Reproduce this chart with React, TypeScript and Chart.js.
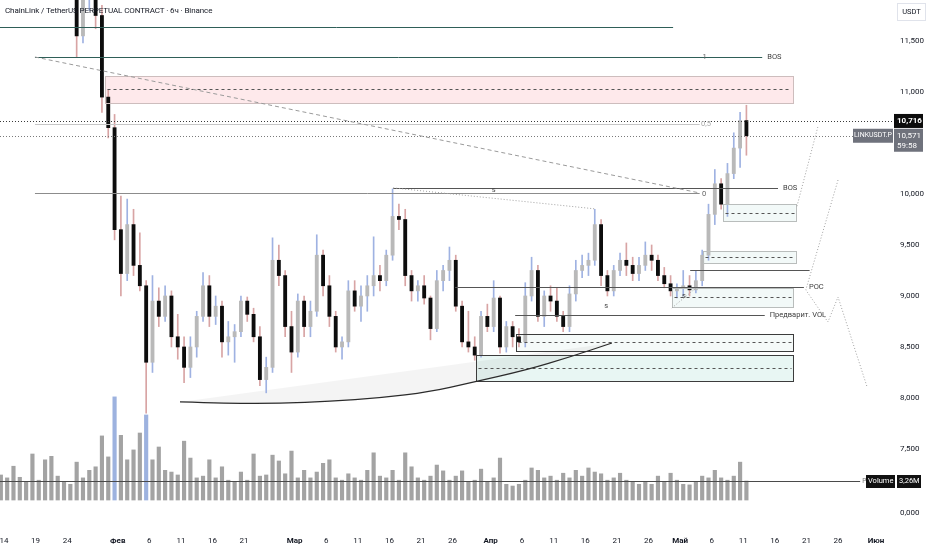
import React, { useEffect, useRef } from 'react';
import { Chart, registerables } from 'chart.js';

Chart.register(...registerables);

// ---------------- data (daily candles, day 0 = 14 Jan) ----------------
const firstDay = -1;
const opens = [
  12.60, 12.80, 13.05, 13.40, 13.25, 13.00, 13.70, 13.45, 13.10, 12.70,
  12.85, 12.45, 12.20, 11.55, 11.95, 12.05, 11.75, 10.95, 10.65, 9.65,
  9.22, 9.70, 9.30, 9.10, 8.35, 8.95, 8.80, 9.00, 8.60, 8.50,
  8.30, 8.50, 8.80, 9.10, 8.80, 8.90, 8.55, 8.60, 8.65, 8.95,
  8.82, 8.60, 8.18, 8.30, 9.35, 9.20, 8.70, 8.45, 8.95, 8.70,
  8.85, 9.40, 9.10, 8.80, 8.50, 8.55, 9.05, 8.90, 9.00, 9.10,
  9.20, 9.15, 9.40, 9.78, 9.75, 9.20, 9.05, 9.10, 8.98, 8.68,
  9.15, 9.25, 9.35, 8.90, 8.55, 8.50, 8.42, 8.80, 8.70, 8.98,
  8.50, 8.70, 8.60, 8.55, 9.00, 9.25, 8.80, 9.00, 8.95, 8.80,
  8.70, 9.02, 9.25, 9.30, 9.35, 9.70, 9.20, 9.05, 9.25, 9.35,
  9.30, 9.22, 9.30, 9.40, 9.35, 9.20, 9.12, 9.05, 9.08, 9.10,
  9.06, 9.15, 9.40, 9.80, 10.10, 9.90, 10.20, 10.45, 10.72,
];
const highs = [
  13.00, 13.20, 13.60, 13.80, 13.50, 13.90, 14.00, 13.70, 13.30, 13.00,
  13.10, 12.70, 12.40, 12.10, 12.30, 12.20, 11.85, 11.02, 10.78, 9.98,
  9.95, 9.85, 9.62, 9.15, 9.20, 9.08, 9.10, 9.05, 8.82, 8.60,
  8.60, 8.85, 9.23, 9.20, 9.00, 8.95, 8.75, 8.72, 9.00, 8.99,
  8.88, 8.70, 8.40, 9.57, 9.50, 9.25, 8.85, 9.02, 9.00, 8.95,
  9.60, 9.45, 9.20, 8.85, 8.60, 9.15, 9.15, 9.10, 9.20, 9.58,
  9.30, 9.45, 10.05, 9.90, 9.85, 9.25, 9.15, 9.20, 9.00, 9.25,
  9.30, 9.48, 9.40, 8.95, 8.85, 8.60, 8.85, 8.92, 9.15, 9.00,
  8.75, 8.75, 8.68, 9.13, 9.38, 9.30, 9.05, 9.10, 9.08, 8.85,
  9.10, 9.35, 9.40, 9.42, 9.85, 9.75, 9.25, 9.30, 9.42, 9.52,
  9.38, 9.38, 9.53, 9.50, 9.40, 9.28, 9.20, 9.12, 9.25, 9.20,
  9.25, 9.45, 9.90, 10.24, 10.15, 10.30, 10.60, 10.80, 10.87,
];
const lows = [
  12.30, 12.50, 12.90, 13.10, 12.90, 12.85, 13.30, 12.90, 12.50, 12.40,
  12.30, 12.00, 11.34, 11.48, 11.80, 11.62, 10.80, 10.55, 9.55, 9.00,
  9.15, 9.20, 9.05, 7.85, 8.25, 8.70, 8.75, 8.50, 8.38, 8.15,
  8.20, 8.40, 8.75, 8.70, 8.72, 8.40, 8.42, 8.35, 8.60, 8.75,
  8.55, 8.12, 8.05, 8.25, 9.10, 8.60, 8.25, 8.40, 8.60, 8.60,
  8.80, 9.00, 8.70, 8.45, 8.38, 8.50, 8.85, 8.75, 8.85, 9.00,
  9.05, 9.10, 9.35, 9.65, 9.10, 8.95, 8.95, 8.92, 8.57, 8.65,
  9.05, 9.15, 8.85, 8.50, 8.45, 8.37, 8.40, 8.65, 8.65, 8.44,
  8.45, 8.50, 8.50, 8.50, 8.95, 8.75, 8.70, 8.85, 8.75, 8.65,
  8.65, 8.95, 9.18, 9.20, 9.30, 9.10, 9.00, 9.00, 9.20, 9.20,
  9.15, 9.15, 9.25, 9.25, 9.15, 9.08, 9.00, 8.98, 9.00, 9.00,
  9.03, 9.10, 9.35, 9.70, 9.85, 9.78, 10.15, 10.26, 10.38,
];
const closes = [
  12.80, 13.05, 13.40, 13.25, 13.00, 13.70, 13.45, 13.10, 12.70, 12.85,
  12.45, 12.20, 11.55, 11.95, 12.05, 11.75, 10.95, 10.65, 9.65, 9.22,
  9.70, 9.30, 9.10, 8.35, 8.95, 8.80, 9.00, 8.60, 8.50, 8.30,
  8.50, 8.80, 9.10, 8.80, 8.90, 8.55, 8.60, 8.65, 8.95, 8.82,
  8.60, 8.18, 8.30, 9.35, 9.20, 8.70, 8.45, 8.95, 8.70, 8.85,
  9.40, 9.10, 8.80, 8.50, 8.55, 9.05, 8.90, 9.00, 9.10, 9.20,
  9.15, 9.40, 9.78, 9.75, 9.20, 9.05, 9.10, 8.98, 8.68, 9.15,
  9.25, 9.35, 8.90, 8.55, 8.50, 8.42, 8.80, 8.70, 8.98, 8.50,
  8.70, 8.60, 8.55, 9.00, 9.25, 8.80, 9.00, 8.95, 8.80, 8.70,
  9.02, 9.25, 9.30, 9.35, 9.70, 9.20, 9.05, 9.25, 9.35, 9.30,
  9.22, 9.30, 9.40, 9.35, 9.20, 9.12, 9.05, 9.08, 9.10, 9.06,
  9.15, 9.40, 9.80, 10.10, 9.90, 10.20, 10.45, 10.72, 10.571,
];
const volumes = [
  4.3, 3.8, 5.8, 3.9, 3.1, 7.9, 3.4, 6.9, 7.5, 4.1,
  3.1, 2.7, 6.5, 3.8, 5.1, 5.7, 11.0, 7.4, 17.7, 11.1,
  6.9, 8.6, 11.5, 14.6, 6.9, 9.1, 5.1, 4.8, 4.3, 10.1,
  7.2, 3.8, 4.1, 6.9, 3.8, 5.7, 3.4, 3.1, 4.8, 3.4,
  7.9, 4.1, 4.3, 7.7, 6.7, 4.5, 8.4, 3.8, 5.1, 3.8,
  4.8, 6.3, 6.9, 3.8, 3.4, 4.5, 3.8, 3.4, 5.1, 8.1,
  4.1, 3.8, 5.1, 3.4, 8.1, 5.7, 3.8, 3.4, 4.1, 6.0,
  5.0, 3.4, 4.1, 5.0, 3.1, 3.4, 5.3, 3.1, 3.8, 7.2,
  2.7, 2.4, 2.7, 3.4, 5.5, 5.1, 3.8, 4.1, 3.4, 4.6,
  3.8, 5.1, 4.1, 5.5, 4.8, 4.5, 3.4, 3.8, 4.6, 3.4,
  3.1, 2.7, 3.1, 2.7, 4.1, 3.1, 4.6, 3.4, 2.7, 2.6,
  3.1, 4.1, 3.8, 5.1, 3.8, 3.4, 4.1, 6.5, 3.26,
];

const xTickDays = [0, 5, 10, 18, 23, 28, 33, 38, 46, 51, 56, 61, 66, 71, 77, 82, 87, 92, 97, 102, 107, 112, 117, 122, 127, 132, 138];
const xTickLabels = ['14', '19', '24', 'Фев', '6', '11', '16', '21', 'Мар', '6', '11', '16', '21', '26', 'Апр', '6', '11', '16', '21', '26', 'Май', '6', '11', '16', '21', '26', 'Июн'];
const monthLabels = ['Фев', 'Мар', 'Апр', 'Май', 'Июн'];
const priceTicks = [11.5, 11.0, 10.0, 9.5, 9.0, 8.5, 8.0, 7.5, 6.87];
const priceTickLabels = ['11,500', '11,000', '10,000', '9,500', '9,000', '8,500', '8,000', '7,500', '0,000'];

const titleText = 'ChainLink / TetherUS PERPETUAL CONTRACT · 6ч · Binance';
const currencyLabel = 'USDT';
const symbolLabel = 'LINKUSDT.P';
const lastPrice = 10.571;
const lastPriceLabel = '10,571';
const countdownLabel = '59:58';
const markPrice = 10.716;
const markPriceLabel = '10,716';
const lastVolume = 3.26;
const lastVolumeLabel = '3,26M';
const volumeLabel = 'Volume';

const viewDays = { min: -0.633, max: 140.7 };
const viewPrice = { min: 6.725, max: 11.902 };
const viewVolume = { min: -4.8, max: 85.8 };

// ---------------- drawings (in day / price units) ----------------
const levelLines = [
  { price: 11.637, from: -0.7, to: 105.9, kind: 'teal' },
  { price: 11.343, from: 4.9, to: 120.0, kind: 'teal', label: 'BOS' },
  { price: 10.686, from: 4.9, to: 110.1, kind: 'light' },
  { price: 10.01, from: 4.9, to: 110.1, kind: 'mid' },
  { price: 10.06, from: 61.6, to: 122.5, kind: 'dark', label: 'BOS' },
  { price: 9.255, from: 108.6, to: 127.5, kind: 'dark' },
  { price: 9.088, from: 71.4, to: 126.6, kind: 'dark', label: 'POC' },
  { price: 8.814, from: 80.9, to: 120.4, kind: 'dark', label: 'Предварит. VOL' },
];
const zones = [
  { from: 16.0, to: 124.9, top: 11.157, bottom: 10.892, mid: 11.029, kind: 'red' },
  { from: 113.8, to: 125.3, top: 9.902, bottom: 9.735, mid: 9.814, kind: 'greenLight' },
  { from: 110.6, to: 125.3, top: 9.441, bottom: 9.324, mid: 9.382, kind: 'greenLight' },
  { from: 105.7, to: 124.9, top: 9.078, bottom: 8.892, mid: 8.99, kind: 'greenLight' },
  { from: 81.0, to: 124.9, top: 8.627, bottom: 8.461, mid: 8.549, kind: 'greenDarkPale' },
  { from: 74.7, to: 124.9, top: 8.422, bottom: 8.167, mid: 8.294, kind: 'greenDark' },
];
const fibTrend = [[4.9, 11.343], [110.1, 10.01]];
const fibLabels = [
  { day: 110.9, price: 11.343, text: '1' },
  { day: 111.1, price: 10.686, text: '0,5' },
  { day: 110.8, price: 10.0, text: '0' },
];
const dottedPaths = [
  [[61.6, 10.06], [93.7, 9.853]],
  [[125.5, 9.88], [128.8, 10.657]],
  [[132.0, 10.137], [126.9, 9.059], [130.4, 8.745], [132.0, 8.99], [136.6, 8.108]],
  [[105.7, 8.882], [109.7, 9.088]],
];
const arcPoints = [
  [27.85, 7.961], [35.77, 7.946], [43.68, 7.946], [51.59, 7.966], [59.5, 8.0],
  [67.42, 8.059], [73.75, 8.147], [82.77, 8.275], [89.57, 8.402], [96.22, 8.539],
];
const swingMarks = [
  { day: 77.5, price: 10.04, text: 's' },
  { day: 95.3, price: 8.9, text: 's' },
  { day: 107.6, price: 9.0, text: 's' },
];
const volumeMaEndDay = 135.5;

const FONT = 'Roboto, "Noto Sans", sans-serif';

const lineColors: Record<string, string> = {
  teal: '#2f5f58',
  light: '#c6c6c6',
  mid: '#8c8c8c',
  dark: '#555555',
};
const zoneStyles: Record<string, { fill: string; stroke: string }> = {
  red: { fill: 'rgba(242,54,69,0.11)', stroke: '#cdbdbd' },
  greenLight: { fill: 'rgba(0,140,110,0.05)', stroke: '#b9bdbc' },
  greenDarkPale: { fill: 'rgba(0,140,110,0.04)', stroke: '#3c3c3c' },
  greenDark: { fill: 'rgba(0,150,120,0.09)', stroke: '#3c3c3c' },
};

function traceCurve(ctx: CanvasRenderingContext2D, pts: number[][]) {
  ctx.moveTo(pts[0][0], pts[0][1]);
  for (let i = 1; i < pts.length - 1; i++) {
    const mx = (pts[i][0] + pts[i + 1][0]) / 2;
    const my = (pts[i][1] + pts[i + 1][1]) / 2;
    ctx.quadraticCurveTo(pts[i][0], pts[i][1], mx, my);
  }
  const last = pts[pts.length - 1];
  ctx.lineTo(last[0], last[1]);
}

const overlayPlugin = {
  id: 'overlay',
  beforeDatasetsDraw(chart: any) {
    const { ctx, chartArea: a, scales } = chart;
    const X = (d: number) => scales.x.getPixelForValue(d);
    const Y = (p: number) => scales.y.getPixelForValue(p);
    ctx.save();
    ctx.beginPath();
    ctx.rect(a.left, a.top, a.right - a.left, a.bottom - a.top);
    ctx.clip();
    for (const z of zones) {
      ctx.fillStyle = zoneStyles[z.kind].fill;
      ctx.fillRect(X(z.from), Y(z.top), X(z.to) - X(z.from), Y(z.bottom) - Y(z.top));
    }
    ctx.beginPath();
    traceCurve(ctx, arcPoints.map(([d, p]) => [X(d), Y(p)]));
    ctx.closePath();
    ctx.fillStyle = 'rgba(0,0,0,0.045)';
    ctx.fill();
    ctx.restore();
  },
  afterDatasetsDraw(chart: any) {
    const { ctx, chartArea: a, scales } = chart;
    const X = (d: number) => scales.x.getPixelForValue(d);
    const Y = (p: number) => scales.y.getPixelForValue(p);
    const snap = (v: number) => Math.round(v) + 0.5;
    ctx.save();
    ctx.beginPath();
    ctx.rect(a.left, a.top, a.right - a.left, a.bottom - a.top);
    ctx.clip();
    ctx.lineWidth = 1;

    // zone borders + mid lines
    for (const z of zones) {
      const x1 = snap(X(z.from));
      const x2 = snap(X(z.to));
      const y1 = snap(Y(z.top));
      const y2 = snap(Y(z.bottom));
      ctx.setLineDash([]);
      ctx.strokeStyle = zoneStyles[z.kind].stroke;
      ctx.strokeRect(x1, y1, x2 - x1, y2 - y1);
      ctx.setLineDash([3, 3]);
      ctx.strokeStyle = '#555';
      ctx.beginPath();
      ctx.moveTo(x1 + 2, snap(Y(z.mid)));
      ctx.lineTo(x2 - 2, snap(Y(z.mid)));
      ctx.stroke();
    }

    // price lines (dotted, full width)
    ctx.setLineDash([1, 2]);
    ctx.strokeStyle = '#3a3a3a';
    ctx.beginPath();
    ctx.moveTo(a.left, snap(Y(markPrice)));
    ctx.lineTo(a.right, snap(Y(markPrice)));
    ctx.stroke();
    ctx.strokeStyle = '#7a7a7a';
    ctx.beginPath();
    ctx.moveTo(a.left, snap(Y(lastPrice)));
    ctx.lineTo(a.right, snap(Y(lastPrice)));
    ctx.stroke();

    // level lines
    ctx.font = `7.5px ${FONT}`;
    ctx.textBaseline = 'middle';
    for (const l of levelLines) {
      ctx.setLineDash([]);
      ctx.strokeStyle = lineColors[l.kind];
      ctx.beginPath();
      ctx.moveTo(X(l.from), snap(Y(l.price)));
      ctx.lineTo(X(l.to), snap(Y(l.price)));
      ctx.stroke();
      if (l.label) {
        ctx.fillStyle = '#3c3c3c';
        ctx.textAlign = 'left';
        ctx.fillText(l.label, X(l.to) + 5, Y(l.price));
      }
    }

    // fib trend (dashed)
    ctx.setLineDash([4, 3]);
    ctx.strokeStyle = '#9a9a9a';
    ctx.beginPath();
    ctx.moveTo(X(fibTrend[0][0]), Y(fibTrend[0][1]));
    ctx.lineTo(X(fibTrend[1][0]), Y(fibTrend[1][1]));
    ctx.stroke();

    // dotted paths
    ctx.setLineDash([1, 2]);
    ctx.strokeStyle = '#a0a0a0';
    for (const path of dottedPaths) {
      ctx.beginPath();
      path.forEach(([d, p], i) => (i === 0 ? ctx.moveTo(X(d), Y(p)) : ctx.lineTo(X(d), Y(p))));
      ctx.stroke();
    }

    // arc
    ctx.setLineDash([]);
    ctx.strokeStyle = '#2b2b2b';
    ctx.lineWidth = 1.2;
    ctx.beginPath();
    traceCurve(ctx, arcPoints.map(([d, p]) => [X(d), Y(p)]));
    ctx.stroke();
    ctx.lineWidth = 1;

    // fib labels & swing marks
    ctx.textAlign = 'center';
    for (const f of fibLabels) {
      ctx.fillStyle = f.text === '0,5' ? '#a5a5a5' : '#666';
      ctx.fillText(f.text, X(f.day), Y(f.price));
    }
    ctx.fillStyle = '#444';
    for (const s of swingMarks) ctx.fillText(s.text, X(s.day), Y(s.price));

    ctx.restore();
  },
  afterDraw(chart: any) {
    const { ctx, chartArea: a, scales } = chart;
    const Y = (p: number) => scales.y.getPixelForValue(p);
    const V = (v: number) => scales.yv.getPixelForValue(v);
    const X = (d: number) => scales.x.getPixelForValue(d);
    ctx.save();
    ctx.textBaseline = 'middle';

    // volume MA line + labels
    const vy = Math.round(V(lastVolume)) + 0.5;
    ctx.strokeStyle = '#4a4a4a';
    ctx.lineWidth = 1;
    ctx.beginPath();
    ctx.moveTo(a.left, vy);
    ctx.lineTo(X(volumeMaEndDay), vy);
    ctx.stroke();
    ctx.font = `6.5px ${FONT}`;
    ctx.fillStyle = '#777';
    ctx.textAlign = 'left';
    ctx.fillText('P', X(volumeMaEndDay) + 2, vy);
    ctx.fillStyle = '#111';
    ctx.fillRect(a.right - 27, vy - 6.5, 29, 13);
    ctx.fillRect(a.right + 4, vy - 6.5, 24, 13);
    ctx.fillStyle = '#fff';
    ctx.font = `7.5px ${FONT}`;
    ctx.fillText(volumeLabel, a.right - 25, vy);
    ctx.fillText(lastVolumeLabel, a.right + 6, vy);

    // mark price box
    const my = Y(markPrice);
    ctx.fillStyle = '#0c0c0c';
    ctx.fillRect(a.right + 1, my - 7, 29, 14);
    ctx.fillStyle = '#fff';
    ctx.font = `bold 8px ${FONT}`;
    ctx.fillText(markPriceLabel, a.right + 4, my);

    // last price + countdown
    const ly = Y(lastPrice);
    ctx.fillStyle = '#6f727c';
    ctx.fillRect(a.right + 1, ly - 7, 29, 23);
    ctx.fillRect(a.right - 40, ly - 7, 40, 14);
    ctx.fillStyle = '#fff';
    ctx.font = `8px ${FONT}`;
    ctx.fillText(lastPriceLabel, a.right + 4, ly);
    ctx.fillText(countdownLabel, a.right + 4, ly + 10);
    ctx.font = `7px ${FONT}`;
    ctx.textAlign = 'center';
    ctx.fillText(symbolLabel, a.right - 20, ly);

    // currency box
    ctx.fillStyle = '#fff';
    ctx.strokeStyle = '#e0e3eb';
    ctx.fillRect(a.right + 4.5, 3.5, 28, 17);
    ctx.strokeRect(a.right + 4.5, 3.5, 28, 17);
    ctx.fillStyle = '#131722';
    ctx.font = `7.5px ${FONT}`;
    ctx.fillText(currencyLabel, a.right + 18.5, 12);
    ctx.restore();
  },
};

export default function App() {
  const ref = useRef<HTMLCanvasElement>(null);
  useEffect(() => {
    document.body.style.margin = '0';
    const canvas = ref.current;
    if (!canvas) return;
    const xs = closes.map((_, i) => firstDay + i + 0.5);
    const isUp = closes.map((c, i) => c >= opens[i]);
    const chart = new Chart(canvas, {
      type: 'bar',
      data: {
        datasets: [
          {
            label: 'Volume',
            data: xs.map((x, i) => ({ x, y: volumes[i] })) as any,
            yAxisID: 'yv',
            backgroundColor: volumes.map((v) => (v > 14 ? '#9db2df' : '#a3a3a3')),
            barThickness: 3.5,
            grouped: false,
            order: 3,
          },
          {
            label: 'Wicks',
            data: xs.map((x, i) => ({ x, y: [lows[i], highs[i]] })) as any,
            yAxisID: 'y',
            backgroundColor: isUp.map((u) => (u ? '#9fb2e2' : '#d8a4a4')),
            barThickness: 1,
            grouped: false,
            order: 2,
          },
          {
            label: 'Candles',
            data: xs.map((x, i) => ({ x, y: [opens[i], closes[i]] })) as any,
            yAxisID: 'y',
            backgroundColor: isUp.map((u) => (u ? '#b9b9b9' : '#0d0d0d')),
            barThickness: 3.2,
            minBarLength: 1,
            grouped: false,
            order: 1,
          },
        ],
      },
      options: {
        responsive: false,
        animation: false,
        events: [],
        layout: { padding: 0 },
        plugins: { legend: { display: false }, tooltip: { enabled: false }, title: { display: false } },
        scales: {
          x: {
            type: 'linear',
            min: viewDays.min,
            max: viewDays.max,
            offset: false,
            grid: { display: false, drawTicks: false },
            border: { display: false },
            afterBuildTicks: (s: any) => {
              s.ticks = xTickDays.map((v) => ({ value: v }));
            },
            afterFit: (s: any) => {
              s.height = 22;
              s.paddingLeft = 0;
              s.paddingRight = 0;
            },
            ticks: {
              autoSkip: false,
              maxRotation: 0,
              padding: 8,
              color: '#131722',
              font: (c: any) => ({
                family: FONT,
                size: 8,
                weight: monthLabels.includes(xTickLabels[c.index]) ? 'bold' : 'normal',
              }),
              callback: (_v: any, i: number) => xTickLabels[i],
            },
          },
          y: {
            type: 'linear',
            position: 'right',
            min: viewPrice.min,
            max: viewPrice.max,
            grid: { display: false, drawTicks: false },
            border: { display: false },
            afterBuildTicks: (s: any) => {
              s.ticks = priceTicks.map((v) => ({ value: v }));
            },
            afterFit: (s: any) => {
              s.width = 39;
              s.paddingTop = 0;
              s.paddingBottom = 0;
            },
            ticks: {
              padding: 7,
              color: '#131722',
              font: { family: FONT, size: 8 },
              callback: (_v: any, i: number) => priceTickLabels[i],
            },
          },
          yv: {
            type: 'linear',
            display: false,
            min: viewVolume.min,
            max: viewVolume.max,
          },
        },
      } as any,
      plugins: [overlayPlugin],
    });
    return () => chart.destroy();
  }, []);

  return (
    <div style={{ position: 'relative', width: 932, height: 550, background: '#fff' }}>
      <canvas ref={ref} width={932} height={550} style={{ display: 'block' }} />
      <div
        style={{
          position: 'absolute',
          left: 5,
          top: 5,
          fontFamily: FONT,
          fontSize: 8,
          lineHeight: '12px',
          color: '#131722',
          whiteSpace: 'nowrap',
          letterSpacing: -0.1,
        }}
      >
        {titleText}
      </div>
    </div>
  );
}
